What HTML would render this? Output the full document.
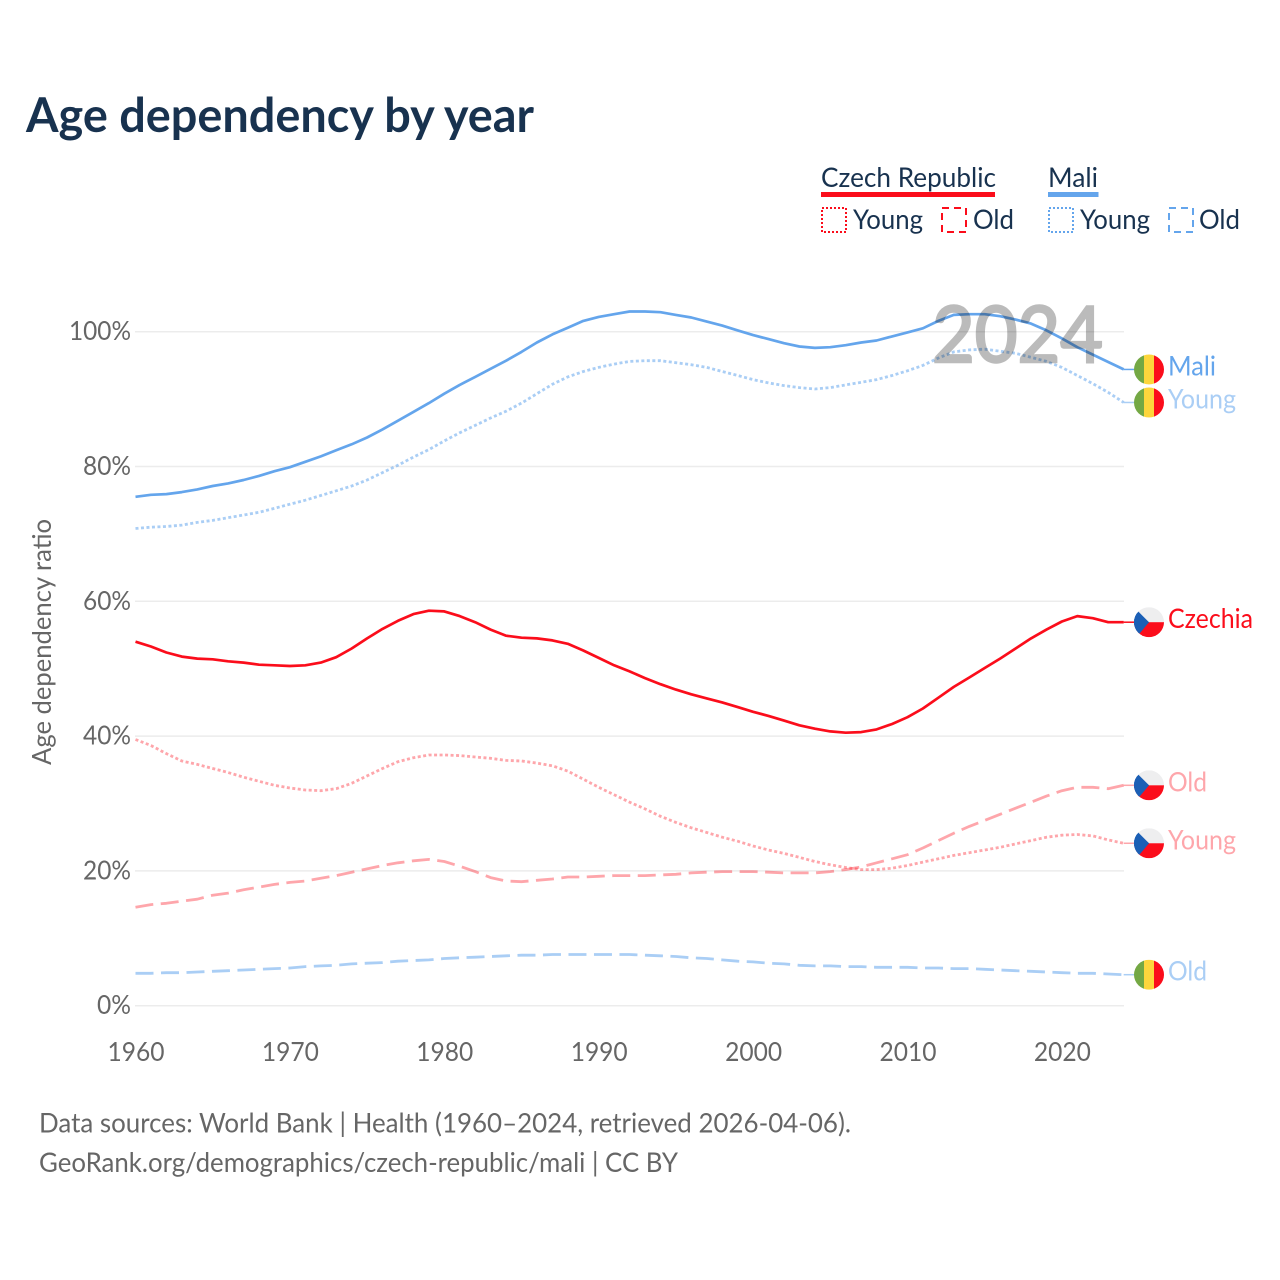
<!DOCTYPE html>
<html lang="en">
<head>
<meta charset="utf-8">
<title>Age dependency by year</title>
<style>
html,body{margin:0;padding:0;background:#fff;}
svg{display:block;}
text{font-family:"Lato","Carlito","Liberation Sans",sans-serif;}
</style>
</head>
<body>
<svg id="chart" xmlns="http://www.w3.org/2000/svg" width="1280" height="1280" viewBox="0 0 1280 1280">
  <rect width="1280" height="1280" fill="#fff"/>
  <text x="26" y="132" font-size="48" font-weight="700" fill="#18324f" textLength="508" lengthAdjust="spacingAndGlyphs">Age dependency by year</text>

  <g>
    <g>
      <text x="821" y="187" font-size="27" fill="#18324f" textLength="175" lengthAdjust="spacingAndGlyphs">Czech Republic</text>
      <rect x="821" y="192" width="174" height="5" fill="#fb0d1b"/>
    </g>
    <g>
      <rect x="822" y="208" width="24" height="24" fill="none" stroke="#fb0d1b" stroke-width="2" stroke-dasharray="2 2"/>
      <text x="853" y="229" font-size="27" fill="#18324f" textLength="70" lengthAdjust="spacingAndGlyphs">Young</text>
    </g>
    <g>
      <rect x="942" y="208" width="24" height="24" fill="none" stroke="#fb0d1b" stroke-width="2" stroke-dasharray="7 5"/>
      <text x="973" y="229" font-size="27" fill="#18324f" textLength="41" lengthAdjust="spacingAndGlyphs">Old</text>
    </g>
    <g>
      <text x="1048" y="187" font-size="27" fill="#18324f" textLength="50" lengthAdjust="spacingAndGlyphs">Mali</text>
      <rect x="1048" y="192" width="50.500" height="5" fill="#64a5ec"/>
    </g>
    <g>
      <rect x="1049" y="208" width="24" height="24" fill="none" stroke="#64a5ec" stroke-width="2" stroke-dasharray="2 2"/>
      <text x="1080" y="229" font-size="27" fill="#18324f" textLength="70" lengthAdjust="spacingAndGlyphs">Young</text>
    </g>
    <g>
      <rect x="1169" y="208" width="24" height="24" fill="none" stroke="#64a5ec" stroke-width="2" stroke-dasharray="7 5"/>
      <text x="1199" y="229" font-size="27" fill="#18324f" textLength="41" lengthAdjust="spacingAndGlyphs">Old</text>
    </g>
  </g>

  <text transform="translate(51,642) rotate(-90)" text-anchor="middle" font-size="26" fill="#666" textLength="246" lengthAdjust="spacingAndGlyphs">Age dependency ratio</text>

  <g id="grid"></g>
  <g id="yticks"></g>
  <g id="xticks"></g>
  <g id="series"></g>
  <g id="ends"></g>

  <text id="year-label" x="1103" y="362" text-anchor="end" font-size="78" fill="#bbbbbb" stroke="#bbbbbb" stroke-width="2.5" style="mix-blend-mode:multiply" textLength="171" lengthAdjust="spacingAndGlyphs">2024</text>

  <text x="39" y="1132.500" font-size="27" fill="#666" textLength="812" lengthAdjust="spacingAndGlyphs">Data sources: World Bank | Health (1960–2024, retrieved 2026-04-06).</text>
  <text x="39" y="1172" font-size="27" fill="#666" textLength="639" lengthAdjust="spacingAndGlyphs">GeoRank.org/demographics/czech-republic/mali | CC BY</text>
</svg>

<script>
const startYear = 1960;
const xTickLabels = [1960, 1970, 1980, 1990, 2000, 2010, 2020];
const yTickValues = [0, 20, 40, 60, 80, 100];

const czechTotal = [54.0,53.3,52.4,51.8,51.5,51.4,51.1,50.9,50.6,50.5,50.4,50.5,50.9,51.7,53.0,54.5,55.9,57.1,58.1,58.6,58.5,57.8,56.9,55.8,54.9,54.6,54.5,54.2,53.7,52.7,51.6,50.5,49.6,48.6,47.7,46.9,46.2,45.6,45.0,44.3,43.6,43.0,42.3,41.6,41.1,40.7,40.5,40.6,41.0,41.8,42.8,44.1,45.7,47.3,48.7,50.1,51.5,53.0,54.5,55.8,57.0,57.8,57.5,56.9,56.9];
const czechYoung = [39.5,38.6,37.4,36.3,35.8,35.2,34.6,33.9,33.3,32.7,32.3,32.0,31.9,32.2,33.0,34.1,35.2,36.2,36.8,37.2,37.2,37.1,36.9,36.7,36.4,36.3,36.0,35.6,34.8,33.6,32.4,31.3,30.2,29.2,28.1,27.2,26.4,25.7,25.0,24.4,23.7,23.1,22.6,22.0,21.4,20.9,20.5,20.2,20.2,20.4,20.8,21.3,21.8,22.3,22.7,23.1,23.5,24.0,24.5,25.0,25.3,25.4,25.2,24.6,24.1];
const czechOld = [14.6,15.0,15.2,15.5,15.8,16.4,16.7,17.2,17.6,18.0,18.3,18.5,18.9,19.3,19.8,20.3,20.8,21.2,21.5,21.7,21.4,20.7,19.9,19.0,18.5,18.4,18.6,18.8,19.1,19.1,19.2,19.3,19.3,19.3,19.4,19.5,19.7,19.8,19.9,19.9,19.9,19.8,19.7,19.7,19.7,19.9,20.2,20.6,21.2,21.8,22.4,23.4,24.5,25.6,26.6,27.5,28.4,29.3,30.2,31.1,31.9,32.4,32.4,32.2,32.7];
const maliTotal = [75.5,75.8,75.9,76.2,76.6,77.1,77.5,78.0,78.6,79.3,79.9,80.7,81.5,82.4,83.3,84.3,85.5,86.8,88.1,89.4,90.8,92.1,93.3,94.5,95.7,97.0,98.4,99.6,100.6,101.6,102.2,102.6,103.0,103.0,102.9,102.5,102.1,101.5,100.9,100.2,99.5,98.9,98.3,97.8,97.6,97.7,98.0,98.4,98.7,99.3,99.9,100.5,101.6,102.5,102.6,102.6,102.3,101.8,101.2,100.2,99.0,97.7,96.6,95.5,94.4];
const maliYoung = [70.8,71.0,71.1,71.3,71.7,72.0,72.4,72.8,73.2,73.8,74.4,75.0,75.7,76.4,77.1,78.0,79.1,80.2,81.4,82.5,83.8,85.0,86.1,87.2,88.2,89.4,90.8,92.2,93.3,94.1,94.7,95.2,95.6,95.7,95.7,95.4,95.1,94.7,94.1,93.5,92.9,92.4,92.0,91.7,91.5,91.7,92.1,92.5,92.9,93.5,94.2,95.0,96.1,97.0,97.3,97.4,97.1,96.8,96.2,95.6,94.7,93.5,92.3,91.0,89.5];
const maliOld = [4.8,4.8,4.9,4.9,5.0,5.1,5.2,5.3,5.4,5.5,5.6,5.8,5.9,6.0,6.2,6.3,6.4,6.6,6.7,6.8,7.0,7.1,7.2,7.3,7.4,7.5,7.5,7.6,7.6,7.6,7.6,7.6,7.6,7.5,7.4,7.3,7.1,7.0,6.8,6.6,6.5,6.3,6.2,6.0,5.9,5.9,5.8,5.8,5.7,5.7,5.7,5.6,5.6,5.5,5.5,5.4,5.3,5.2,5.1,5.0,4.9,4.8,4.8,4.7,4.6];

const SVGNS = 'http://www.w3.org/2000/svg';
const plotLeft = 135, plotRight = 1124, yearPx = 15.44, baseY = 1005.7, pctPx = 6.74;
function xScale(year){ return 135.5 + (year - startYear) * yearPx; }
function yScale(v){ return baseY - v * pctPx; }
function make(tag, attrs, parent){
  const el = document.createElementNS(SVGNS, tag);
  for (const k in attrs) el.setAttribute(k, attrs[k]);
  parent.appendChild(el);
  return el;
}

const gridG = document.getElementById('grid');
const yG = document.getElementById('yticks');
const xG = document.getElementById('xticks');
const seriesG = document.getElementById('series');
const endsG = document.getElementById('ends');

yTickValues.forEach(function(v){
  const line = make('line', {x1: plotLeft, x2: plotRight, y1: yScale(v), y2: yScale(v), stroke: '#ececec', 'stroke-width': 1.5}, gridG);
  
  
  const label = String(v) + '%';
  const t = make('text', {x: 131, y: yScale(v) + 8.5, 'text-anchor': 'end', 'font-size': 26.5, fill: '#666', textLength: label.length === 4 ? 62 : (label.length === 3 ? 48 : 34), lengthAdjust: 'spacingAndGlyphs'}, yG);
  t.textContent = label;
  
  
});

xTickLabels.forEach(function(year){
  const t = make('text', {x: xScale(year) + 0.5, y: 1061, 'text-anchor': 'middle', 'font-size': 26.5, fill: '#666', textLength: 57, lengthAdjust: 'spacingAndGlyphs'}, xG);
  t.textContent = String(year);
  
  
});

const defs = make('defs', {}, document.getElementById('chart'));

function drawSeries(name, values, color, opacity, width, dash, label, labelLen, flag){
  const pts = values.map(function(v, i){ return xScale(startYear + i).toFixed(1) + ',' + yScale(v).toFixed(1); }).join(' ');
  const attrs = {points: pts, fill: 'none', stroke: color, 'stroke-width': width, 'stroke-opacity': opacity, 'stroke-linejoin': 'round'};
  if (dash) attrs['stroke-dasharray'] = dash;
  const line = make('polyline', attrs, seriesG);
  
  

  const lastY = yScale(values[values.length - 1]);
  const lastX = xScale(startYear + values.length - 1);
  const leader = make('line', {x1: lastX, x2: 1135, y1: lastY, y2: lastY, stroke: color, 'stroke-opacity': opacity, 'stroke-width': 1.5}, endsG);
  
  

  const clipId = 'clip-' + name;
  const clip = make('clipPath', {id: clipId}, defs);
  make('circle', {cx: 1149, cy: lastY, r: 15}, clip);
  const g = make('g', {'clip-path': 'url(#' + clipId + ')'}, endsG);
  
  
  const top = lastY - 15;
  if (flag === 'mali') {
    make('rect', {x: 1134, y: top, width: 10, height: 30, fill: '#74a844'}, g);
    make('rect', {x: 1144, y: top, width: 10, height: 30, fill: '#fdd63c'}, g);
    make('rect', {x: 1154, y: top, width: 10, height: 30, fill: '#fb0d1b'}, g);
  } else {
    make('rect', {x: 1134, y: top, width: 30, height: 15, fill: '#eeeeef'}, g);
    make('rect', {x: 1134, y: lastY, width: 30, height: 15, fill: '#fb0d1b'}, g);
    make('polygon', {points: '1134,' + (lastY - 15) + ' 1149,' + lastY + ' 1134,' + (lastY + 15), fill: '#1b5fb5'}, g);
    make('polygon', {points: '1134,' + (lastY - 12) + ' 1149,' + lastY + ' 1139,' + (lastY + 12) + ' 1130,' + (lastY + 12), fill: '#1b5fb5'}, g);
  }

  const t = make('text', {x: 1168, y: lastY + 6, 'font-size': 27, fill: color, 'fill-opacity': opacity, textLength: labelLen, lengthAdjust: 'spacingAndGlyphs'}, endsG);
  t.textContent = label;
  
  
}

const RED = '#fb0d1b', BLUE = '#64a5ec';
drawSeries('mali-old', maliOld, BLUE, 0.55, 2.8, '18 7.5', 'Old', 39, 'mali');
drawSeries('czech-old', czechOld, RED, 0.37, 2.8, '18 7.5', 'Old', 39, 'czech');
drawSeries('czech-young', czechYoung, RED, 0.37, 2.8, '3 2.5', 'Young', 68, 'czech');
drawSeries('czech-total', czechTotal, RED, 1, 2.7, '', 'Czechia', 85, 'czech');
drawSeries('mali-young', maliYoung, BLUE, 0.55, 2.8, '3 2.5', 'Young', 68, 'mali');
drawSeries('mali-total', maliTotal, BLUE, 1, 2.7, '', 'Mali', 48, 'mali');
</script>
</body>
</html>
